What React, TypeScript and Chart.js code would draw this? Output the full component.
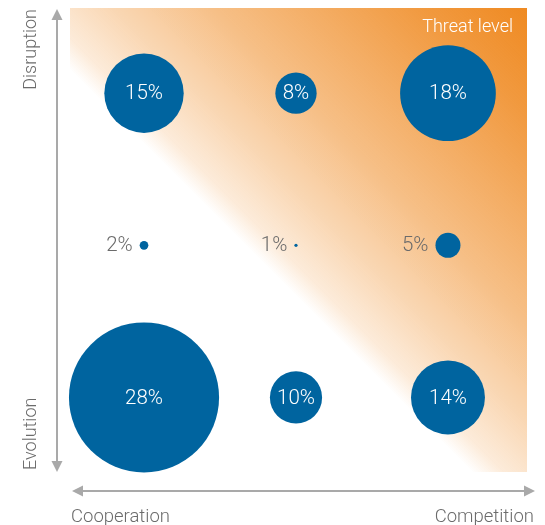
import React, { useEffect, useRef } from "react";
import { Chart, registerables } from "chart.js";

Chart.register(...registerables);

// Data
const columnLabels = ["Cooperation", "", "Competition"]; // x categories (0..2)
const rowLabels = ["Evolution", "", "Disruption"]; // y categories (0..2)
const pointColumns = [0, 1, 2, 0, 1, 2, 0, 1, 2];
const pointRows = [2, 2, 2, 1, 1, 1, 0, 0, 0];
const pointValues = [15, 8, 18, 2, 1, 5, 28, 10, 14];
const legendTitle = "Threat level";

const BUBBLE = "#00649f";
const GRAY_TEXT = "#6b6b6b";
const ARROW = "#a9a9a9";
const FONT_FAMILY = "Roboto, 'Open Sans', 'DejaVu Sans', sans-serif";

const radiusFor = (v: number) => Math.max(1.4, 2.72 * v - 1.1);

const decorPlugin = {
  id: "decor",
  beforeDatasetsDraw(chart: any) {
    const { ctx, chartArea } = chart;
    const { left, top, right, bottom } = chartArea;
    // gradient from the diagonal (x - y = 0) to the top-right corner
    const x0 = (right + top) / 2;
    const y0 = x0;
    const g = ctx.createLinearGradient(x0, y0, right, top);
    const o = (a: number) => `rgba(239,138,34,${a})`;
    g.addColorStop(0, o(0));
    g.addColorStop(0.06, o(0.17));
    g.addColorStop(0.2, o(0.34));
    g.addColorStop(0.4, o(0.55));
    g.addColorStop(0.6, o(0.71));
    g.addColorStop(0.8, o(0.87));
    g.addColorStop(1, o(1));
    ctx.save();
    ctx.fillStyle = g;
    ctx.fillRect(left, top, right - left, bottom - top);
    // legend title
    ctx.fillStyle = "#ffffff";
    ctx.font = `300 18px ${FONT_FAMILY}`;
    ctx.textAlign = "right";
    ctx.textBaseline = "middle";
    ctx.fillText(legendTitle, right - 14, top + 19);
    ctx.restore();
  },
  afterDatasetsDraw(chart: any) {
    const { ctx } = chart;
    const meta = chart.getDatasetMeta(0);
    ctx.save();
    ctx.textBaseline = "middle";
    meta.data.forEach((el: any, i: number) => {
      const v = pointValues[i];
      const r = radiusFor(v);
      const txt = `${v}%`;
      ctx.font = `300 20.5px ${FONT_FAMILY}`;
      if (v >= 8) {
        ctx.fillStyle = "#ffffff";
        ctx.textAlign = "center";
        ctx.fillText(txt, el.x, el.y + 1);
      } else {
        ctx.fillStyle = GRAY_TEXT;
        ctx.textAlign = "right";
        ctx.fillText(txt, el.x - r - 7, el.y + 1);
      }
    });
    ctx.restore();
  },
  afterDraw(chart: any) {
    const { ctx, chartArea } = chart;
    const { left, top, right, bottom } = chartArea;
    ctx.save();
    ctx.strokeStyle = ARROW;
    ctx.fillStyle = ARROW;
    ctx.lineWidth = 2;
    // vertical double arrow
    const ax = left - 13;
    const vTop = top + 1;
    const vBot = bottom;
    ctx.beginPath();
    ctx.moveTo(ax, vTop + 8);
    ctx.lineTo(ax, vBot - 8);
    ctx.stroke();
    ctx.beginPath();
    ctx.moveTo(ax, vTop);
    ctx.lineTo(ax - 5.5, vTop + 11);
    ctx.lineTo(ax + 5.5, vTop + 11);
    ctx.closePath();
    ctx.fill();
    ctx.beginPath();
    ctx.moveTo(ax, vBot);
    ctx.lineTo(ax - 5.5, vBot - 11);
    ctx.lineTo(ax + 5.5, vBot - 11);
    ctx.closePath();
    ctx.fill();
    // horizontal double arrow
    const ay = bottom + 19;
    const hL = left + 2;
    const hR = right + 8;
    ctx.beginPath();
    ctx.moveTo(hL + 8, ay);
    ctx.lineTo(hR - 8, ay);
    ctx.stroke();
    ctx.beginPath();
    ctx.moveTo(hL, ay);
    ctx.lineTo(hL + 11, ay - 5.5);
    ctx.lineTo(hL + 11, ay + 5.5);
    ctx.closePath();
    ctx.fill();
    ctx.beginPath();
    ctx.moveTo(hR, ay);
    ctx.lineTo(hR - 11, ay - 5.5);
    ctx.lineTo(hR - 11, ay + 5.5);
    ctx.closePath();
    ctx.fill();

    // axis end labels
    ctx.fillStyle = GRAY_TEXT;
    ctx.font = `300 18.5px ${FONT_FAMILY}`;
    ctx.textBaseline = "alphabetic";
    ctx.textAlign = "left";
    ctx.fillText(columnLabels[0], left + 1, bottom + 50);
    ctx.textAlign = "right";
    ctx.fillText(columnLabels[2], right + 7, bottom + 50);

    // vertical labels
    ctx.font = `300 18px ${FONT_FAMILY}`;
    ctx.save();
    ctx.translate(left - 39, 0);
    ctx.rotate(-Math.PI / 2);
    ctx.textBaseline = "middle";
    ctx.textAlign = "right";
    ctx.fillText(rowLabels[2], -(top + 1), 0);
    ctx.textAlign = "left";
    ctx.fillText(rowLabels[0], -(bottom - 2), 0);
    ctx.restore();
    ctx.restore();
  },
};

export default function App() {
  const ref = useRef<HTMLCanvasElement | null>(null);
  useEffect(() => {
    if (!ref.current) return;
    const chart = new Chart(ref.current, {
      type: "bubble",
      data: {
        datasets: [
          {
            data: pointValues.map((v, i) => ({
              x: pointColumns[i],
              y: pointRows[i],
              r: radiusFor(v),
            })),
            backgroundColor: BUBBLE,
            borderWidth: 0,
            hoverBorderWidth: 0,
            clip: false as any,
          },
        ],
      },
      options: {
        animation: false,
        responsive: true,
        maintainAspectRatio: false,
        devicePixelRatio: 1,
        events: [],
        layout: {
          autoPadding: false,
          padding: { left: 70, top: 8, right: 18, bottom: 53 },
        },
        plugins: { legend: { display: false }, tooltip: { enabled: false } },
        scales: {
          x: { type: "linear", min: -0.487, max: 2.52, display: false },
          y: { type: "linear", min: -0.49, max: 2.56, display: false },
        },
      },
      plugins: [decorPlugin],
    });
    return () => chart.destroy();
  }, []);
  return (
    <div style={{ position: "fixed", left: 0, top: 0, width: 545, height: 525 }}>
      <canvas ref={ref} />
    </div>
  );
}
